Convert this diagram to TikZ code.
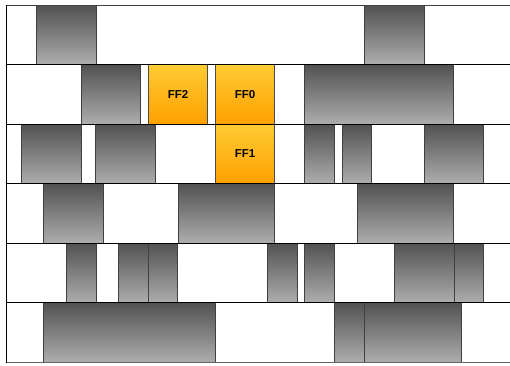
\documentclass[tikz,border=0pt]{standalone}
\usepackage{fontspec}
\setmainfont{Liberation Sans}
\begin{document}
\begin{tikzpicture}[x=1pt,y=-1pt,
  graycell/.style={top color=black!68, bottom color=black!32, draw=black!75, line width=0.9pt},
  ffcell/.style={top color={rgb,255:red,255;green,204;blue,51}, bottom color={rgb,255:red,255;green,160;blue,0}, draw=black!70, line width=0.9pt, inner sep=0pt, font=\bfseries\fontsize{11.5}{13}\selectfont},
  rowline/.style={draw=black, line width=1pt}]
\useasboundingbox (0,0) rectangle (510,365);
% row 1
\foreach \a/\b in {36.3/96, 364.7/424.3} \path[graycell] (\a,5) rectangle (\b,64.5);
% row 2
\foreach \a/\b in {81/140.3, 304.7/453.7} \path[graycell] (\a,64.5) rectangle (\b,124);
% row 3
\foreach \a/\b in {21.3/81, 95.7/155.7, 304.7/334.7, 342.3/371.7, 424.3/483.7} \path[graycell] (\a,124) rectangle (\b,183.5);
% row 4
\foreach \a/\b in {43.3/103.3, 178/274.7, 357/453.7} \path[graycell] (\a,183.5) rectangle (\b,243);
% row 5
\foreach \a/\b in {66/96, 118.3/148.3, 148.3/177.7, 267.3/297.3, 304.7/334.7, 394.3/454, 454/483.7} \path[graycell] (\a,243) rectangle (\b,302.5);
% row 6
\foreach \a/\b in {43.3/215, 334.7/364.3, 364.3/461.7} \path[graycell] (\a,302.5) rectangle (\b,362.5);
% flip-flops
\path[ffcell] (148.7,64.5) rectangle node (ff2) {FF2} (207.3,124);
\path[ffcell] (215.3,64.5) rectangle node (ff0) {FF0} (274.7,124);
\path[ffcell] (215.3,124) rectangle node (ff1) {FF1} (274.7,183.5);
% row lines
\draw[draw=black!75, line width=1pt] (6,5) -- (510,5);
\foreach \y in {64.5,124,183.5,243,302.5} \draw[rowline] (6,\y) -- (510,\y);
\draw[draw=black!60, line width=1pt] (6,362.5) -- (510,362.5);
\draw[rowline] (6,5) -- (6,362.5);
\end{tikzpicture}
\end{document}
